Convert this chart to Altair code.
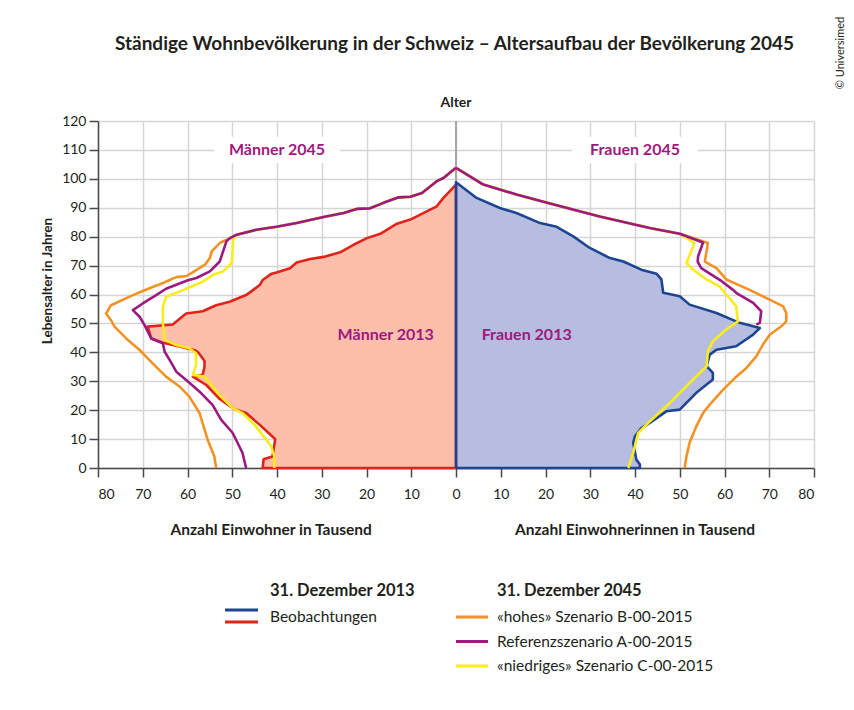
import altair as alt
import pandas as pd

TITLE = "Ständige Wohnbevölkerung in der Schweiz – Altersaufbau der Bevölkerung 2045"

# ---------- data: population in thousands by age ----------
# Men, observed 31.12.2013
men_obs_age = [0, 3, 4, 10, 11, 15, 19, 20.3, 24, 28.7, 31.6, 32.2, 35, 37, 39.8, 40.6, 42, 43.3, 44.8, 48.9,
               49.6, 53.4, 54.2, 56.3, 57.5, 59.8, 61.6, 63.4, 65, 67.2, 67.6, 69.1, 71.1, 72.3, 73, 74.6, 77.2,
               79.5, 81, 84.5, 85.9, 88.2, 90.5, 93.4, 98]
men_obs_val = [43.2, 43.0, 41.0, 40.4, 41.1, 43.9, 46.9, 49.5, 52.9, 55.8, 58.8, 56.6, 56.2, 56.2, 57.5, 58.2,
               61.8, 65.5, 68.1, 68.9, 63.3, 60.3, 56.6, 53.6, 50.6, 46.9, 45.3, 43.8, 43.2, 41.2, 40.1, 37.1,
               35.6, 32.6, 29.6, 25.9, 22.9, 19.9, 16.9, 13.2, 10.2, 7.2, 4.3, 2.8, 0]

# Women, observed 31.12.2013
women_obs_age = [0, 1.2, 2.9, 8.7, 11, 13.8, 15.6, 19.6, 20.2, 26, 30.6, 32.9, 35.2, 39.2, 40.9, 42.1, 46.1,
                 48.4, 50.2, 50.7, 53.6, 56.5, 59.4, 60.6, 65.2, 67.2, 68.6, 71.4, 72.6, 76.1, 80.1, 83.4, 84.7,
                 88.2, 89.9, 93.4, 98.8]
women_obs_val = [41.1, 41.1, 40.3, 39.6, 40.0, 41.4, 43.3, 47.0, 50.0, 53.7, 57.4, 57.4, 56.0, 56.7, 58.2, 62.6,
                 66.4, 67.9, 63.4, 62.6, 58.2, 52.2, 50.0, 46.3, 45.9, 44.8, 41.4, 37.4, 34.4, 29.9, 26.2, 22.5,
                 18.8, 13.5, 9.8, 4.6, 0]

# Men 2045, common upper part of the three scenarios
men_top_age = [80.7, 82.4, 83.4, 84.7, 86.8, 88.2, 89.6, 89.8, 91.7, 93.6, 93.8, 95.1, 99.2, 100.3, 103.8]
men_top_val = [49.0, 44.6, 40.1, 35.6, 29.6, 25.1, 22.2, 19.2, 16.2, 12.8, 10.2, 7.6, 4.3, 2.8, 0]

men_high_age = [0, 4, 9.8, 19, 24.7, 28.2, 31.6, 36.2, 40.8, 44.8, 48.9, 51.1, 53.4, 56.3, 59.8, 62.6, 64, 65,
                66, 66.4, 68, 70.3, 72.6, 74.9, 77.8, 79.5]
men_high_val = [53.6, 54.0, 55.5, 57.3, 59.6, 61.8, 64.8, 67.8, 70.7, 73.7, 76.3, 77.1, 78.2, 77.1, 72.2, 67.8,
                65.4, 64.0, 62.5, 60.2, 58.5, 56.1, 55.0, 54.6, 52.8, 50.5]

men_ref_age = [0, 5.2, 12.1, 16.7, 21.8, 26.4, 29.9, 33.3, 37.4, 40.2, 43.1, 44.8, 49.4, 52.3, 54.6, 56.9, 59.8,
               62, 64.9, 65.7, 68, 71.4, 78.4, 79.5]
men_ref_val = [46.9, 47.7, 49.9, 52.5, 54.4, 57.3, 59.9, 62.5, 64.0, 65.1, 65.5, 68.1, 69.6, 70.7, 72.2, 70.0,
               67.0, 64.8, 59.9, 58.0, 55.0, 52.8, 51.3, 50.5]

men_low_age = [0, 4, 7.5, 14.4, 19, 20.7, 25.3, 31.6, 32.2, 35.6, 39.7, 41.4, 42.5, 44.3, 50, 55.7, 59.2, 61.5,
               64.5, 66.8, 68, 70.9, 79]
men_low_val = [40.6, 40.6, 41.3, 44.7, 47.7, 49.9, 52.9, 56.2, 58.8, 58.1, 58.1, 59.6, 62.5, 65.1, 65.5, 65.5,
               64.8, 61.0, 56.5, 54.3, 52.0, 50.1, 49.8]

# Women 2045, common upper part of the three scenarios
women_top_age = [81, 83, 87, 91.5, 94.6, 98, 103.8]
women_top_val = [50.0, 43.3, 32.1, 21.0, 13.5, 6.1, 0]

women_high_age = [0, 4, 8.7, 14.4, 19, 21.9, 27.1, 31.1, 34.6, 38.6, 42.7, 46.1, 49, 50.7, 53.6, 55.9, 58.2,
                  61.6, 65.2, 69.1, 71.4, 77.8]
women_high_val = [51.1, 51.5, 52.2, 53.7, 55.2, 56.7, 59.7, 62.3, 64.9, 67.1, 68.6, 70.1, 72.7, 73.8, 73.8, 73.1,
                  70.1, 65.6, 60.4, 58.2, 55.6, 56.3]

women_ref_age = [49.6, 50.2, 54.2, 57.1, 60.6, 61.6, 65, 69.1, 71.4, 73.2, 78]
women_ref_val = [67.1, 67.9, 68.2, 66.4, 62.6, 61.9, 59.0, 54.8, 54.0, 54.1, 55.2]

women_low_age = [0, 5.2, 12.1, 16.1, 22.5, 29.4, 35.2, 40.4, 43.8, 47.9, 50.7, 56, 60, 62.8, 65.2, 68.6, 70.9, 77.8]
women_low_val = [38.5, 39.6, 40.7, 43.3, 47.8, 52.2, 56.0, 56.3, 57.4, 60.4, 63.0, 62.6, 60.4, 58.9, 56.0, 53.0,
                 51.5, 53.3]

label_text = ["Männer 2045", "Frauen 2045", "Männer 2013", "Frauen 2013"]
label_x = [-40, 40, -15.7, 15.8]
label_age = [110, 110, 46, 46]

axis_title_text = ["Anzahl Einwohner in Tausend", "Anzahl Einwohnerinnen in Tausend"]
axis_title_x = [-41.3, 40.0]

legend_2013_head = "31. Dezember 2013"
legend_2013_name = "Beobachtungen"
legend_2045_head = "31. Dezember 2045"
legend_2045_names = ["«hohes» Szenario B-00-2015", "Referenzszenario A-00-2015", "«niedriges» Szenario C-00-2015"]

x_ticks = list(range(-80, 81, 10))
y_ticks = list(range(0, 121, 10))

# ---------- styles ----------
RED, BLUE = "#e2231a", "#1d4592"
ORANGE, PURPLE, YELLOW = "#f39224", "#9c1a80", "#f9ec1a"
FILL_M, FILL_W = "#fdbfab", "#b6bde0"
LABEL = "#a0197e"
TXT = "#231f20"
FONT = "Lato"
W, H = 716, 347

xscale = alt.Scale(domain=[-80, 80], nice=False, zero=False)
yscale = alt.Scale(domain=[0, 120], nice=False)
xaxis = alt.Axis(values=x_ticks, labelExpr="abs(datum.value)", title=None, tickSize=9, labelPadding=10,
                 grid=True, labelFontSize=14)
yaxis = alt.Axis(values=y_ticks, title=None, tickSize=9, labelPadding=3, grid=True, labelFontSize=14)


def X(field):
    return alt.X(field, type="quantitative", scale=xscale, axis=xaxis)


def Y(field):
    return alt.Y(field, type="quantitative", scale=yscale, axis=yaxis)


def frame(ages, vals, sign, closed=False):
    a = list(ages)
    v = [sign * x for x in vals]
    if closed:
        a = [0] + a + [0]
        v = [0] + v + [0]
    return pd.DataFrame({"age": a, "pop": v, "i": list(range(len(a)))})


def line(df, color, width=2.6):
    return alt.Chart(df).mark_line(color=color, strokeWidth=width, strokeJoin="round").encode(
        x=X("pop"), y=Y("age"), order=alt.Order("i:Q"))


def area(df, color):
    return alt.Chart(df).mark_area(orient="horizontal", color=color, opacity=1).encode(
        x=X("pop"), x2=alt.X2("zero:Q"), y=Y("age"))


layers = []

# centre line (x = 0 over the whole age range)
layers.append(alt.Chart(pd.DataFrame({"x": [0], "a0": [y_ticks[0]], "a1": [y_ticks[-1]]}))
              .mark_rule(color="#a6a6a6", strokeWidth=2)
              .encode(x=X("x"), y=Y("a0"), y2=alt.Y2("a1:Q")))

# fills 2013
layers.append(area(frame(men_obs_age, men_obs_val, -1).assign(zero=0), FILL_M))
layers.append(area(frame(women_obs_age, women_obs_val, 1).assign(zero=0), FILL_W))

# observed outlines
layers.append(line(frame(men_obs_age, men_obs_val, -1, closed=True), RED))
layers.append(line(frame(women_obs_age, women_obs_val, 1, closed=True), BLUE))

# scenarios 2045
layers.append(line(frame(men_high_age + men_top_age, men_high_val + men_top_val, -1), ORANGE))
layers.append(line(frame(women_high_age + women_top_age, women_high_val + women_top_val, 1), ORANGE))
layers.append(line(frame(men_low_age + men_top_age, men_low_val + men_top_val, -1), YELLOW))
layers.append(line(frame(women_low_age + women_top_age, women_low_val + women_top_val, 1), YELLOW))
layers.append(line(frame(men_ref_age + men_top_age, men_ref_val + men_top_val, -1), PURPLE))
layers.append(line(frame(women_ref_age + women_top_age, women_ref_val + women_top_val, 1), PURPLE))

# in-plot labels
labels = pd.DataFrame({"t": label_text, "x": label_x, "age": label_age})
box_path = "M-1,-0.21L1,-0.21L1,0.21L-1,0.21Z"
layers.append(alt.Chart(labels.iloc[:2]).mark_point(shape=box_path, filled=True, color="white", opacity=1,
                                                    size=126 * 126, strokeWidth=0).encode(x=X("x"), y=Y("age")))
layers.append(alt.Chart(labels).mark_text(font=FONT, fontSize=16, fontWeight="bold", color=LABEL).encode(
    x=X("x"), y=Y("age"), text="t:N"))

# x-axis titles below each half
layers.append(alt.Chart(pd.DataFrame({"t": axis_title_text, "x": axis_title_x}))
              .mark_text(font=FONT, fontSize=15.5, fontWeight="bold", color=TXT, baseline="middle")
              .encode(x=X("x"), y=alt.value(409), text="t:N"))
# "Alter" above the centre line
layers.append(alt.Chart(pd.DataFrame({"t": ["Alter"], "x": [0]}))
              .mark_text(font=FONT, fontSize=14, fontWeight="bold", color=TXT, baseline="middle")
              .encode(x=X("x"), y=alt.value(-18), text="t:N"))


def note(text, x, y, size=14, weight="normal", align="center", angle=0, color=TXT):
    kw = dict(font=FONT, fontSize=size, fontWeight=weight, align=align, baseline="middle", color=color)
    if angle:
        kw["angle"] = angle
    return alt.Chart(pd.DataFrame({"t": [text]})).mark_text(**kw).encode(
        text="t:N", x=alt.value(x), y=alt.value(y))


layers.append(note(TITLE, 356.5, -77, size=19, weight="bold"))
layers.append(note("Lebensalter in Jahren", -50.5, 160, size=13.5, weight="bold", angle=270))
layers.append(note("© Universimed", 743, -68, size=11, angle=270))

# legend
layers.append(note(legend_2013_head, 172, 470, size=16.5, weight="bold", align="left"))
layers.append(note(legend_2013_name, 172, 496, size=15.5, align="left"))
layers.append(note(legend_2045_head, 399, 470, size=16.5, weight="bold", align="left"))


def swatch(color, x, x2, y):
    return alt.Chart(pd.DataFrame({"c": [color]})).mark_rule(color=color, strokeWidth=3).encode(
        x=alt.value(x), x2=alt.value(x2), y=alt.value(y))


layers.append(swatch(BLUE, 127, 160, 489))
layers.append(swatch(RED, 127, 160, 501))
for k, (name, col) in enumerate(zip(legend_2045_names, [ORANGE, PURPLE, YELLOW])):
    yy = 496 + 24.5 * k
    layers.append(swatch(col, 358, 390, yy))
    layers.append(note(name, 399, yy, size=15.5, align="left"))

chart = alt.layer(*layers).properties(
    width=W, height=H,
    autosize=alt.AutoSizeParams(type="none"),
    padding={"left": 90, "top": 113, "right": 32, "bottom": 210},
    background="white",
).configure(font=FONT).configure_axis(
    labelFont=FONT, titleFont=FONT, labelColor=TXT, gridColor="#d5d5d5", gridWidth=1.5,
    domainColor="#4a4a4a", tickColor="#4a4a4a", domainWidth=1.5, tickWidth=1.5,
).configure_view(stroke="transparent")

chart.save("out.html", embed_options={"renderer": "svg", "actions": False})
